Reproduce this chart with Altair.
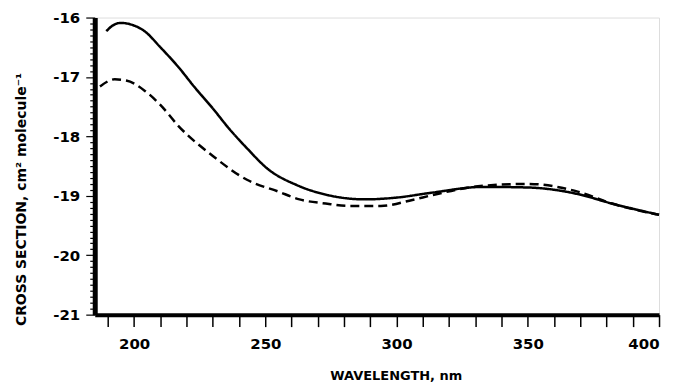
import altair as alt
import pandas as pd

solid_x = [189.4, 192, 195, 199, 204, 210, 217, 223, 230, 236, 243, 251, 262, 274, 288, 300, 313, 333, 350, 369, 382, 400]
solid_y = [-16.23, -16.13, -16.09, -16.12, -16.23, -16.50, -16.84, -17.17, -17.53, -17.86, -18.20, -18.55, -18.82, -18.99, -19.06, -19.03, -18.95, -18.85, -18.86, -18.97, -19.13, -19.32]

dash_x = [187, 192.6, 197, 204, 210, 217, 230, 243, 255, 263, 273, 282, 294, 306, 313.5, 331, 350, 369, 382, 400]
dash_y = [-17.16, -17.04, -17.06, -17.23, -17.47, -17.83, -18.33, -18.73, -18.93, -19.06, -19.13, -19.17, -19.17, -19.07, -18.99, -18.84, -18.80, -18.93, -19.13, -19.32]

x_ticks = list(range(190, 401, 10))
y_ticks = [round(-21 + 0.1 * i, 1) for i in range(51)]

df = pd.concat([
    pd.DataFrame({"wl": solid_x, "cs": solid_y, "s": "solid"}),
    pd.DataFrame({"wl": dash_x, "cs": dash_y, "s": "dashed"}),
])

FONT = "DejaVu Sans"

x_enc = alt.X("wl:Q", scale=alt.Scale(domain=[185, 400], nice=False, zero=False),
              axis=alt.Axis(values=x_ticks, title="WAVELENGTH, nm", grid=False,
                            labelExpr="datum.value % 50 == 0 ? datum.label : ''",
                            domainWidth=4, domainColor="black", tickColor="black",
                            tickWidth=1.5, tickSize=12, labelPadding=10,
                            labelFont=FONT, labelFontSize=15, labelFontWeight="bold",
                            labelColor="black", titleFont=FONT, titleFontSize=13,
                            titleFontWeight="bold", titleColor="black",
                            titleX=302, titleY=61, titleBaseline="middle"))
y_enc = alt.Y("cs:Q", scale=alt.Scale(domain=[-21, -16], nice=False, zero=False),
              axis=alt.Axis(values=y_ticks, title="CROSS SECTION, cm² molecule⁻¹", grid=False,
                            labelExpr="abs(datum.value - round(datum.value)) < 0.001 ? '' + round(datum.value) : ''",
                            domainWidth=5, domainColor="black", tickColor="black",
                            tickWidth=1.2,
                            tickSize={"condition": {"test": "abs(datum.value - round(datum.value)) < 0.001", "value": 9}, "value": 5},
                            labelPadding=6,
                            labelFont=FONT, labelFontSize=15, labelFontWeight="bold",
                            labelColor="black", titleFont=FONT, titleFontSize=14,
                            titleFontWeight="bold", titleColor="black", titleY=182, titleX=-66))

chart = alt.Chart(df).mark_line(color="black", strokeWidth=2.5, interpolate="monotone").encode(
    x=x_enc, y=y_enc,
    detail="s:N",
    strokeDash=alt.StrokeDash("s:N", scale=alt.Scale(domain=["solid", "dashed"], range=[[1, 0], [9, 5]]), legend=None),
).properties(
    width=566, height=298,
    autosize=alt.AutoSizeParams(type="none"),
    padding={"left": 87, "top": 9, "right": 10, "bottom": 72},
).configure_view(stroke=None).configure(background="white")

chart.save("out.html", embed_options={"renderer": "svg", "actions": False})
